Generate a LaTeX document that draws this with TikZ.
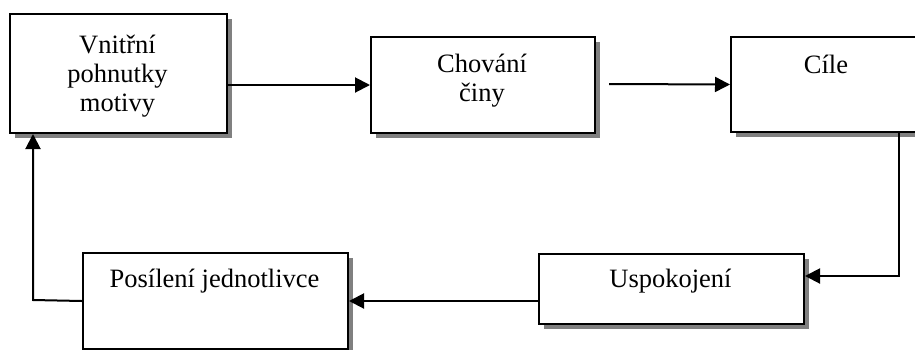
\documentclass[tikz,border=0pt]{standalone}
\usepackage{fontspec}
\setmainfont{Liberation Serif}
\usetikzlibrary{arrows.meta,shadows}
\begin{document}
\begin{tikzpicture}[x=1pt,y=-1pt,
  box/.style={draw=black,line width=2pt,fill=white,rectangle,anchor=north west,inner sep=0pt,
    drop shadow={shadow xshift=5pt,shadow yshift=-5pt,opacity=1,fill=black!50}},
  lbl/.style={font=\fontsize{26.5}{29}\selectfont,align=center,inner sep=0pt,anchor=base},
  arr/.style={line width=2pt,-{Triangle[length=15pt,width=15pt]}}]
\useasboundingbox (0,0) rectangle (915,349);
% boxes
\node[box,minimum width=217pt,minimum height=119pt] (b1) at (9,13) {};
\node[box,minimum width=224pt,minimum height=96pt] (b2) at (370,36) {};
\node[box,minimum width=192pt,minimum height=95pt] (b3) at (730,36) {};
\node[box,minimum width=265pt,minimum height=70pt] (usp) at (538,253) {};
\node[box,minimum width=265pt,minimum height=96pt] (pos) at (82,252) {};
% texts (base anchor = baseline of last line)
\node[lbl] (b1t) at (117.5,111) {Vnitřní\\pohnutky\\motivy};
\node[lbl] (b2t) at (482,101) {Chování\\činy};
\node[lbl] (b3t) at (826,73) {Cíle};
\node[lbl] (uspt) at (670.5,287) {Uspokojení};
\node[lbl] (post) at (214.5,287) {Posílení jednotlivce};
% connectors
\draw[arr] (b1.east |- b2.west) -- (b2.west);
\coordinate (s2) at (609,84);
\draw[arr] (s2) -- (b3.west);
\coordinate (c3) at (899,276);
\draw[arr] (b3.south -| c3) -- (c3) -- (usp.east |- c3);
\draw[arr] (usp.west |- pos.east) -- (pos.east);
\coordinate (c5) at (33,300);
\draw[arr] (pos.west) -- (c5) -- (c5 |- b1.south);
\end{tikzpicture}
\end{document}
